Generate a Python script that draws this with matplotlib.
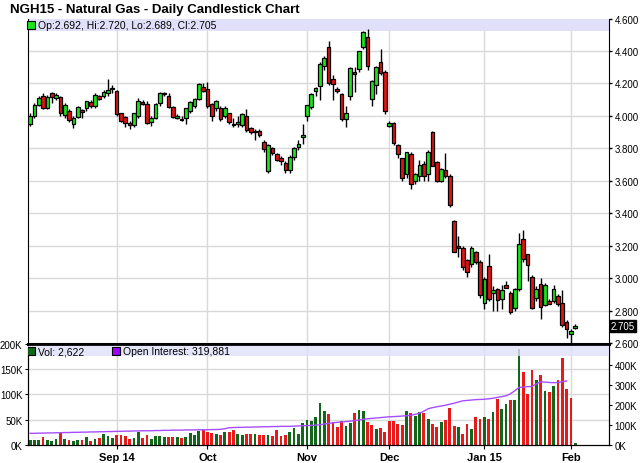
import matplotlib.pyplot as plt
import numpy as np
from matplotlib.patches import Rectangle

# daily candles, Aug 2014 -> Feb 3 2015
opens = [3.95, 4.00, 4.07, 4.12, 4.046, 4.144, 4.11, 4.114, 4.005, 4.033,
         3.953, 3.996, 4.037, 4.046, 4.087, 4.062, 4.124, 4.124, 4.144, 4.165,
         4.153, 4.017, 3.994, 3.959, 3.945, 4.00, 4.085, 4.073, 3.963, 3.99,
         4.08, 4.132, 4.12, 4.052, 3.99, 3.984, 3.986, 4.03, 4.062, 4.107,
         4.18, 4.165, 4.076, 4.047, 4.047, 4.00, 4.016, 3.953, 3.948, 3.944,
         4.00, 3.923, 3.903, 3.909, 3.84, 3.658, 3.802, 3.764, 3.74, 3.709,
         3.668, 3.748, 3.811, 3.868, 4.00, 4.053, 4.152, 4.182, 4.31, 4.423,
         4.228, 4.166, 4.135, 3.98, 4.12, 4.273, 4.29, 4.423, 4.485, 4.104,
         4.19, 4.33, 4.269, 3.938, 3.954, 3.818, 3.738, 3.641, 3.764, 3.60,
         3.627, 3.703, 3.641, 3.899, 3.714, 3.596, 3.666, 3.627, 3.353, 3.198,
         3.189, 3.11, 3.086, 3.162, 3.10, 2.85, 3.076, 2.91, 2.936, 2.874,
         2.956, 2.911, 2.818, 2.936, 3.244, 3.147, 3.01, 2.88, 2.962, 2.837,
         2.86, 2.86, 2.89, 2.849, 2.73, 2.654, 2.692]
highs = [4.015, 4.08, 4.12, 4.14, 4.13, 4.15, 4.14, 4.12, 4.08, 4.04,
         4.00, 4.06, 4.04, 4.09, 4.095, 4.14, 4.13, 4.16, 4.227, 4.19,
         4.16, 4.02, 4.00, 3.97, 4.02, 4.11, 4.10, 4.09, 4.00, 4.08,
         4.15, 4.15, 4.14, 4.06, 4.01, 4.00, 4.05, 4.09, 4.11, 4.20,
         4.20, 4.21, 4.08, 4.10, 4.06, 4.06, 4.02, 3.99, 4.00, 4.02,
         4.04, 3.93, 3.92, 3.92, 3.85, 3.83, 3.81, 3.77, 3.75, 3.72,
         3.76, 3.81, 3.85, 3.95, 4.07, 4.14, 4.18, 4.33, 4.37, 4.46,
         4.25, 4.18, 4.14, 4.06, 4.30, 4.30, 4.40, 4.52, 4.535, 4.22,
         4.31, 4.41, 4.28, 3.97, 3.96, 3.83, 3.74, 3.78, 3.78, 3.65,
         3.73, 3.72, 3.79, 3.91, 3.72, 3.68, 3.77, 3.64, 3.36, 3.26,
         3.20, 3.12, 3.20, 3.17, 3.11, 3.01, 3.15, 2.95, 2.94, 2.96,
         2.98, 2.92, 2.94, 3.28, 3.30, 3.15, 3.02, 2.95, 3.00, 2.97,
         2.87, 2.96, 2.90, 2.93, 2.74, 2.685, 2.72]
lows = [3.94, 3.99, 4.06, 4.04, 4.04, 4.08, 4.10, 4.00, 3.99, 3.96,
        3.928, 3.99, 3.99, 4.03, 4.05, 4.05, 4.10, 4.11, 4.12, 4.14,
        4.00, 3.96, 3.93, 3.922, 3.93, 3.99, 4.07, 3.95, 3.94, 3.98,
        4.06, 4.12, 4.05, 3.99, 3.98, 3.97, 3.95, 4.02, 4.05, 4.10,
        4.15, 4.05, 3.97, 4.03, 3.97, 3.99, 3.95, 3.93, 3.93, 3.93,
        3.90, 3.89, 3.85, 3.87, 3.78, 3.65, 3.76, 3.72, 3.70, 3.65,
        3.65, 3.73, 3.79, 3.83, 3.97, 4.04, 4.12, 4.10, 4.28, 4.19,
        4.10, 4.14, 3.97, 3.93, 4.10, 4.15, 4.27, 4.41, 4.28, 4.06,
        4.135, 4.25, 4.01, 3.93, 3.82, 3.74, 3.60, 3.62, 3.55, 3.58,
        3.60, 3.60, 3.60, 3.69, 3.59, 3.59, 3.62, 3.44, 3.16, 3.13,
        3.05, 3.01, 3.07, 3.09, 2.88, 2.81, 2.86, 2.80, 2.80, 2.81,
        2.94, 2.78, 2.80, 2.92, 3.10, 2.98, 2.81, 2.86, 2.75, 2.83,
        2.84, 2.85, 2.83, 2.70, 2.63, 2.60, 2.689]
closes = [4.00, 4.07, 4.11, 4.05, 4.114, 4.114, 4.13, 4.02, 4.066, 3.976,
          3.99, 4.052, 4.021, 4.089, 4.058, 4.128, 4.107, 4.149, 4.161, 4.172,
          4.011, 3.97, 3.955, 3.945, 4.015, 4.093, 4.075, 3.959, 3.99, 4.076,
          4.144, 4.144, 4.052, 3.996, 4.00, 3.974, 4.046, 4.087, 4.107, 4.196,
          4.155, 4.062, 4.00, 4.094, 3.98, 4.05, 3.96, 3.944, 3.96, 4.01,
          3.915, 3.903, 3.908, 3.884, 3.795, 3.82, 3.769, 3.73, 3.72, 3.668,
          3.748, 3.80, 3.83, 3.882, 4.067, 4.135, 4.172, 4.32, 4.357, 4.20,
          4.195, 4.152, 3.98, 4.016, 4.293, 4.258, 4.398, 4.516, 4.306, 4.213,
          4.30, 4.265, 4.028, 3.954, 3.832, 3.765, 3.615, 3.775, 3.58, 3.641,
          3.697, 3.627, 3.775, 3.693, 3.60, 3.676, 3.627, 3.452, 3.164, 3.189,
          3.071, 3.04, 3.189, 3.10, 2.895, 2.997, 2.87, 2.925, 2.864, 2.925,
          2.942, 2.794, 2.931, 3.209, 3.121, 3.082, 2.818, 2.936, 2.822, 2.956,
          2.843, 2.931, 2.839, 2.711, 2.689, 2.674, 2.705]

# volume (thousands), open interest (thousands)
volume_k = [9.0, 9.2, 9.2, 15.2, 9.2, 7.3, 11.2, 23.1, 11.2, 9.2,
            7.3, 9.2, 9.2, 15.2, 7.3, 11.2, 13.2, 20.5, 17.2, 13.2,
            19.1, 19.1, 17.2, 11.2, 13.2, 24.4, 13.2, 19.1, 11.2, 17.2,
            17.2, 15.2, 15.2, 15.2, 15.2, 13.2, 15.2, 23.1, 19.1, 27.1,
            29.0, 25.1, 23.1, 20.5, 19.1, 25.1, 25.1, 29.0, 20.5, 19.1,
            20.5, 20.5, 20.5, 19.1, 19.1, 19.1, 17.2, 29.0, 17.2, 19.1,
            25.1, 33.0, 20.5, 42.9, 48.8, 46.9, 54.8, 82.5, 67.3, 60.7,
            44.2, 35.6, 46.2, 37.0, 42.2, 62.7, 68.6, 66.7, 44.2, 39.6,
            31.0, 33.0, 25.1, 46.9, 46.9, 40.9, 38.3, 66.7, 62.7, 56.1,
            64.0, 62.0, 50.8, 40.9, 34.3, 44.2, 48.8, 72.6, 36.3, 34.3,
            20.5, 40.9, 31.0, 54.1, 50.8, 54.1, 50.8, 64.0, 90.4, 70.6,
            80.5, 89.1, 88.4, 189.4, 144.6, 100.3, 147.9, 128.1, 138.0, 106.3,
            105.0, 116.8, 128.1, 171.6, 110.2, 92.4, 2.622]
open_int_k = [57, 57, 58, 58, 59, 59, 60, 60, 61, 61,
              62, 62, 63, 63, 64, 64, 65, 65, 66, 66,
              67, 67, 68, 68, 69, 69, 70, 70, 70, 71,
              71, 72, 72, 73, 73, 73, 74, 74, 74, 75,
              75, 75, 76, 76, 77, 80, 85, 86, 87, 87,
              88, 88, 89, 89, 90, 90, 91, 91, 92, 92,
              92, 93, 94, 95, 96, 97, 98, 100, 104, 107,
              110, 112, 114, 116, 118, 121, 124, 127, 130, 132,
              134, 136, 138, 140, 141, 142, 144, 145, 148, 152,
              158, 168, 180, 186, 190, 194, 198, 203, 208, 214,
              220, 222, 224, 226, 227, 228, 230, 233, 237, 241,
              245, 255, 270, 287, 289, 291, 292, 305, 315, 314,
              312, 311, 312, 316, 319.881]

month_idx = [20, 41, 64, 83, 105, 125]
month_lbl = ['Sep 14', 'Oct', 'Nov', 'Dec', 'Jan 15', 'Feb']
price_ticks = [2.6, 2.8, 3.0, 3.2, 3.4, 3.6, 3.8, 4.0, 4.2, 4.4, 4.6]
vol_ticks = [0, 50, 100, 150, 200]
oi_ticks = [0, 100, 200, 300, 400]

UP = '#19e619'
DN = '#e01414'
VUP = '#11661a'
VDN = '#e61a1a'
GRID = '#d9d9d9'
BAND = '#e0e0fa'
FONT = 'Liberation Sans'
FS = 7.5   # legend text
TS = 7     # tick labels

W, H = 640, 464
fig = plt.figure(figsize=(6.4, 4.64), dpi=100)


def px_axes(x0, y0, x1, y1):
    return fig.add_axes([x0 / W, 1 - y1 / H, (x1 - x0) / W, (y1 - y0) / H])


ax = px_axes(27.5, 19.5, 609, 345)
axv = px_axes(27.5, 345, 609, 445.7)
axo = axv.twinx()

x = np.arange(len(closes))
o = np.array(opens)
c = np.array(closes)
xlim = (-0.6, 133.8)

# ---- price panel ----
ax.set_xlim(*xlim)
ax.set_ylim(2.595, 4.6)
for m in month_idx:
    ax.axvline(m, color=GRID, lw=1, zorder=0)
for t in price_ticks:
    ax.axhline(t, color=GRID, lw=1, zorder=0)
ax.add_patch(Rectangle((0, 0.9616), 1, 0.0384, transform=ax.transAxes,
                       facecolor=BAND, edgecolor='none', zorder=1))

ax.vlines(x, lows, highs, color='black', lw=1, zorder=2)
body_lo = np.minimum(o, c)
body_h = np.maximum(np.abs(c - o), 0.006)
ax.bar(x, body_h, bottom=body_lo, width=0.85,
       color=[UP if cc >= oo else DN for oo, cc in zip(o, c)],
       edgecolor='black', linewidth=0.9, zorder=3)

ax.yaxis.tick_right()
ax.set_yticks(price_ticks)
ax.set_yticklabels(['%.3f' % t for t in price_ticks], fontsize=TS, family=FONT)
ax.tick_params(axis='y', length=2.5, width=1, pad=1.5, colors='black')
ax.set_xticks([])
ax.spines['top'].set_visible(False)
ax.spines['bottom'].set_linewidth(2)

ax.plot([0.006], [0.981], marker='s', ms=5.5, mfc=UP, mec='black', mew=0.8,
        transform=ax.transAxes, zorder=5, clip_on=False)
ax.text(0.018, 0.981, 'Op:%.3f, Hi:%.3f, Lo:%.3f, Cl:%.3f' % (opens[-1], highs[-1], lows[-1], closes[-1]),
        transform=ax.transAxes, fontsize=FS, family=FONT, va='center', ha='left', zorder=5)

# last price tag
ax.text(1.003, closes[-1], '%.3f' % closes[-1], transform=ax.get_yaxis_transform(),
        fontsize=TS, family=FONT, color='white', va='center', ha='left', zorder=6,
        bbox=dict(boxstyle='square,pad=0.12', facecolor='black', edgecolor='black'),
        clip_on=False)

# ---- volume panel ----
axv.set_xlim(*xlim)
axv.set_ylim(0, 200)
prev = np.concatenate([[opens[0]], closes[:-1]])
axv.bar(x, volume_k, width=0.65,
        color=[VUP if cc >= pp else VDN for pp, cc in zip(prev, c)], zorder=2)
for m in month_idx:
    axv.axvline(m, color=GRID, lw=1, zorder=0)
for t in vol_ticks[1:-1]:
    axv.axhline(t, color=GRID, lw=1, zorder=0)
axv.set_yticks(vol_ticks)
axv.set_yticklabels(['%dK' % t for t in vol_ticks], fontsize=TS, family=FONT)
axv.tick_params(axis='y', length=2.5, pad=1)
axv.set_xticks(month_idx)
axv.set_xticklabels(month_lbl, fontsize=8, family=FONT, fontweight='bold')
axv.tick_params(axis='x', length=3, pad=2)
axv.spines['top'].set_linewidth(2)

axo.set_ylim(0, 505)
axo.set_xlim(*xlim)
axo.plot(np.arange(len(open_int_k)), open_int_k, color='#a64dff', lw=1, zorder=3)
axo.set_yticks(oi_ticks)
axo.set_yticklabels(['%dK' % t for t in oi_ticks], fontsize=TS, family=FONT)
axo.tick_params(axis='y', length=2.5, pad=1.5)
axo.spines['top'].set_visible(False)
axo.add_patch(Rectangle((0, 0.876), 1, 0.104, transform=axo.transAxes,
                        facecolor=BAND, edgecolor='none', alpha=0.8, zorder=4))
axo.plot([0.006], [0.928], marker='s', ms=5.5, mfc=VUP, mec='black', mew=0.8,
         transform=axo.transAxes, zorder=5)
axo.text(0.018, 0.928, 'Vol: {:,}'.format(int(round(volume_k[-1] * 1000))),
         transform=axo.transAxes, fontsize=FS, family=FONT, va='center', zorder=5)
axo.plot([0.152], [0.928], marker='s', ms=5.5, mfc='#9900ff', mec='black', mew=0.8,
         transform=axo.transAxes, zorder=5)
axo.text(0.164, 0.928, 'Open Interest: {:,}'.format(int(round(open_int_k[-1] * 1000))),
         transform=axo.transAxes, fontsize=FS, family=FONT, va='center', zorder=5)

fig.text(10 / W, 1 - 10 / H, 'NGH15 - Natural Gas - Daily Candlestick Chart',
         fontsize=9.5, fontweight='bold', family=FONT, va='center', ha='left')

fig.savefig('out.png', dpi=100)
